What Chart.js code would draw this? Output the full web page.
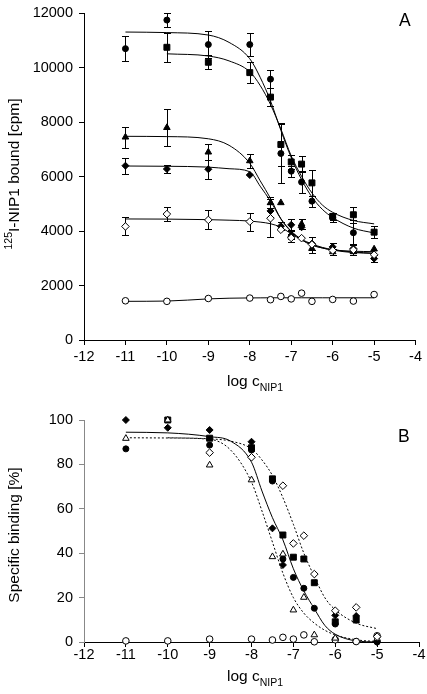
<!DOCTYPE html>
<html>
<head>
<meta charset="utf-8">
<script src="https://cdn.jsdelivr.net/npm/chart.js@4.4.1/dist/chart.umd.min.js"></script>
<style>
  body { margin: 0; background: #fff; }
  #wrap { position: relative; width: 427px; height: 694px; font-family: 'Liberation Sans', Arial, sans-serif; color: #000; }
  canvas { position: absolute; left: 0; }
  .t { position: absolute; white-space: nowrap; font-size: 15.5px; line-height: 1; }
  .t sub { font-size: 10.5px; vertical-align: 0; position: relative; top: 5px; }
  .t sup { font-size: 10.5px; vertical-align: 0; position: relative; top: -7px; }
  .rot { transform: translate(-50%, -50%) rotate(-90deg); }
  .panel { position: absolute; font-size: 17.5px; line-height: 1; }
</style>
</head>
<body>
<div id="wrap">
  <canvas id="chartA" width="427" height="400" style="top:0"></canvas>
  <canvas id="chartB" width="427" height="294" style="top:400px"></canvas>
  <div class="t rot" style="left:14px; top:174px"><sup>125</sup>I-NIP1 bound [cpm]</div>
  <div class="t" style="left:227px; top:373px">log c<sub>NIP1</sub></div>
  <div class="t rot" style="left:14px; top:535px">Specific binding [%]</div>
  <div class="t" style="left:227px; top:668px">log c<sub>NIP1</sub></div>
  <div class="panel" style="left:399px; top:12px">A</div>
  <div class="panel" style="left:398px; top:428px">B</div>
</div>
<script>
// concentrations (log M) of the measured points
const logConc = [-11, -10, -9, -8, -7.5, -7.25, -7, -6.75, -6.5, -6, -5.5, -5];
// x positions where the fitted curves were read
const fitX = [-11, -10, -9, -8.5, -8, -7.75, -7.5, -7.25, -7, -6.75, -6.5, -6.25, -6, -5.5, -5];

// panel A: 125I-NIP1 bound [cpm]
const boundCircle = [10700, 11750, 10850, 10850, 9580, 6850, 6200, 5800, 5100, 4500, 3940, null];
const boundCircleErr = [450, 250, 480, 420, 340, 1100, 200, 400, 200, 150, 450, null];
const boundSquare = [null, 10750, 10200, 9820, 8920, 7180, 6540, 6460, 5770, 4540, 4600, 3960];
const boundSquareErr = [null, 525, 250, 380, 330, 800, 250, 300, 480, 130, 300, 230];
const boundTriangle = [7450, 7800, 6900, 6580, 5040, 5040, 3870, 4260, 3360, 3240, 3240, 3340];
const boundTriangleErr = [390, 680, 300, 250, 200, null, 150, 200, 150, 100, 100, null];
const boundDiamond = [6400, 6280, 6270, 6060, 4740, 4180, 4230, 4140, 3540, 3420, 3360, 2990];
const boundDiamondErr = [300, 150, 350, null, 250, 150, 200, null, 250, 130, 150, 130];
const boundOpenDiamond = [4170, 4625, 4410, 4350, 4470, 4050, 3750, 3740, 3510, 3290, 3310, 3130];
const boundOpenDiamondErr = [330, 250, 350, 330, 700, null, 150, null, null, null, null, null];
const boundOpenCircle = [1440, 1420, 1525, 1540, 1480, 1600, 1510, 1720, 1420, 1490, 1430, 1670];

const fitCircle = [11310, 11290, 11200, 10930, 10330, 9650, 8780, 7700, 6700, 5890, 5250, 4800, 4500, 4110, 3930];
const fitSquare = [null, 10510, 10430, 10250, 9850, 9350, 8650, 7750, 6760, 6010, 5400, 4960, 4690, 4390, 4265];
const fitTriangle = [7480, 7470, 7390, 7150, 6490, 5850, 5200, 4450, 3980, 3680, 3480, 3380, 3310, 3260, 3245];
const fitDiamond = [6390, 6380, 6350, 6290, 6180, 5650, 5100, 4450, 4000, 3700, 3530, 3400, 3320, 3230, 3190];
const fitOpenDiamond = [4445, 4440, 4420, 4400, 4370, 4330, 4270, 4140, 3900, 3680, 3500, 3380, 3300, 3210, 3180];
const fitOpenCircle = [1420, 1430, 1510, 1535, 1545, 1548, 1550, 1550, 1550, 1550, 1550, 1550, 1550, 1550, 1550];

// panel B: specific binding [%]
const specCircle = [87, null, 88.7, 86.5, 72.5, 37.4, 29.1, 24.2, 15.2, 8.1, 0.3, 0];
const specSquare = [null, 100, 91.8, 87.5, 73.5, 48.2, 38.2, 37.4, 26.7, 9.1, 9.9, null];
const specOpenTriangle = [91.7, 100, 79.7, 73, 38.4, 39.6, 14.4, 20.1, 3.2, 1.7, null, 1.5];
const specDiamond = [100, 96.5, 95.5, 90.2, 51.2, 34.7, null, null, null, 12, 11.7, 0];
const specOpenDiamond = [null, null, 85.3, 83.2, null, 70.4, 44.4, 47.9, 30.6, 14.1, 15.6, 2.4];
const specOpenCircle = [0.5, 0.5, 1.3, 1.3, 0.9, 2.1, 1.3, 3.2, 0.1, 1.0, 0.2, 2.8];

const fitSolid = [94.5, 94.2, 92.5, 90.5, 81, 68, 56, 46, 33, 23, 15, 7.5, 3.5, 0.5, 0];
const fitLeftDashed = [92, 91.9, 91.3, 86.5, 72, 59, 45, 31, 20, 13, 8.5, 5.3, 3.2, 1, 0.2];
const fitRightDashed = [null, 92, 91.5, 90.5, 87, 82, 75, 65, 53, 40, 29.5, 20, 14.5, 8.5, 6];

const yTicksA = [0, 2000, 4000, 6000, 8000, 10000, 12000];
const yTicksB = [0, 20, 40, 60, 80, 100];

const FONT = "'Liberation Sans', Arial, sans-serif";

function pts(xs, ys, errs) {
  return xs.map((x, i) => ({ x: x, y: ys[i], e: errs ? errs[i] : null }))
    .filter(p => p.y !== null);
}

function markers(ys, style, filled, radius, errs) {
  return {
    type: 'scatter',
    data: pts(logConc, ys, errs),
    pointStyle: style,
    pointRadius: radius,
    pointHoverRadius: radius,
    backgroundColor: filled ? '#000' : '#fff',
    borderColor: '#000',
    borderWidth: 1,
    showLine: false,
    clip: false
  };
}

function fitLine(ys, dash) {
  return {
    type: 'line',
    data: pts(fitX, ys),
    borderColor: '#000',
    borderWidth: 1,
    borderDash: dash || [],
    pointRadius: 0,
    fill: false,
    cubicInterpolationMode: 'monotone'
  };
}

// vertical error bars with caps, drawn under the markers
const errorBars = {
  id: 'errorBars',
  beforeDatasetsDraw(chart) {
    const { ctx, chartArea, scales } = chart;
    ctx.save();
    ctx.beginPath();
    ctx.rect(chartArea.left, chartArea.top - 1, chartArea.width, chartArea.height + 1);
    ctx.clip();
    ctx.strokeStyle = '#000';
    ctx.lineWidth = 1;
    chart.data.datasets.forEach(ds => {
      ds.data.forEach(p => {
        if (!p.e) return;
        const px = Math.round(scales.x.getPixelForValue(p.x)) + 0.5;
        const top = Math.round(scales.y.getPixelForValue(p.y + p.e)) + 0.5;
        const bot = Math.round(scales.y.getPixelForValue(p.y - p.e)) + 0.5;
        ctx.beginPath();
        ctx.moveTo(px, top); ctx.lineTo(px, bot);
        ctx.moveTo(px - 3.5, top); ctx.lineTo(px + 3.5, top);
        ctx.moveTo(px - 3.5, bot); ctx.lineTo(px + 3.5, bot);
        ctx.stroke();
      });
    });
    ctx.restore();
  }
};

function scalesFor(yTicks, xAxisH, xPad, yBorder) {
  const tickFont = { family: FONT, size: 14.5, lineHeight: 1 };
  return {
    x: {
      type: 'linear', min: -12, max: -4,
      ticks: { stepSize: 1, color: '#000', font: tickFont, padding: xPad, callback: v => v },
      grid: { display: true, drawOnChartArea: false, drawTicks: true, tickLength: 5, color: '#000' },
      border: { display: true, color: '#000', width: 1 },
      afterFit: s => { s.height = xAxisH; }
    },
    y: {
      type: 'linear', min: yTicks[0], max: yTicks[yTicks.length - 1],
      afterBuildTicks: s => { s.ticks = yTicks.map(v => ({ value: v })); },
      ticks: { color: '#000', font: tickFont, padding: 6, callback: v => String(v) },
      grid: { display: true, drawOnChartArea: false, drawTicks: true, tickLength: 5, color: yBorder },
      border: { display: true, color: yBorder, width: 1 },
      afterFit: s => { s.width = 84; }
    }
  };
}

const commonOpts = {
  responsive: false,
  animation: false,
  events: [],
  plugins: { legend: { display: false }, tooltip: { enabled: false } }
};

new Chart(document.getElementById('chartA'), {
  type: 'scatter',
  data: {
    datasets: [
      markers(boundOpenDiamond, 'rectRot', false, 3.8, boundOpenDiamondErr),
      markers(boundOpenCircle, 'circle', false, 3.3),
      markers(boundCircle, 'circle', true, 3, boundCircleErr),
      markers(boundSquare, 'rect', true, 4.2, boundSquareErr),
      markers(boundTriangle, 'triangle', true, 3.8, boundTriangleErr),
      markers(boundDiamond, 'rectRot', true, 3.5, boundDiamondErr),
      fitLine(fitCircle),
      fitLine(fitSquare),
      fitLine(fitTriangle),
      fitLine(fitDiamond),
      fitLine(fitOpenDiamond),
      fitLine(fitOpenCircle)
    ]
  },
  options: Object.assign({}, commonOpts, {
    layout: { padding: { left: 0, top: 7, right: 8, bottom: 0 } },
    scales: scalesFor(yTicksA, 60, 5, '#000')
  }),
  plugins: [errorBars]
});

new Chart(document.getElementById('chartB'), {
  type: 'scatter',
  data: {
    datasets: [
      markers(specOpenDiamond, 'rectRot', false, 3.8),
      markers(specOpenTriangle, 'triangle', false, 3.8),
      markers(specOpenCircle, 'circle', false, 3.3),
      markers(specCircle, 'circle', true, 3),
      markers(specSquare, 'rect', true, 4.2),
      markers(specDiamond, 'rectRot', true, 3.5),
      fitLine(fitSolid),
      fitLine(fitLeftDashed, [2, 2]),
      fitLine(fitRightDashed, [2, 2])
    ]
  },
  options: Object.assign({}, commonOpts, {
    layout: { padding: { left: 0, top: 20, right: 8, bottom: 0 } },
    scales: scalesFor(yTicksB, 52, 1, '#888')
  }),
  plugins: [errorBars]
});
</script>
</body>
</html>
